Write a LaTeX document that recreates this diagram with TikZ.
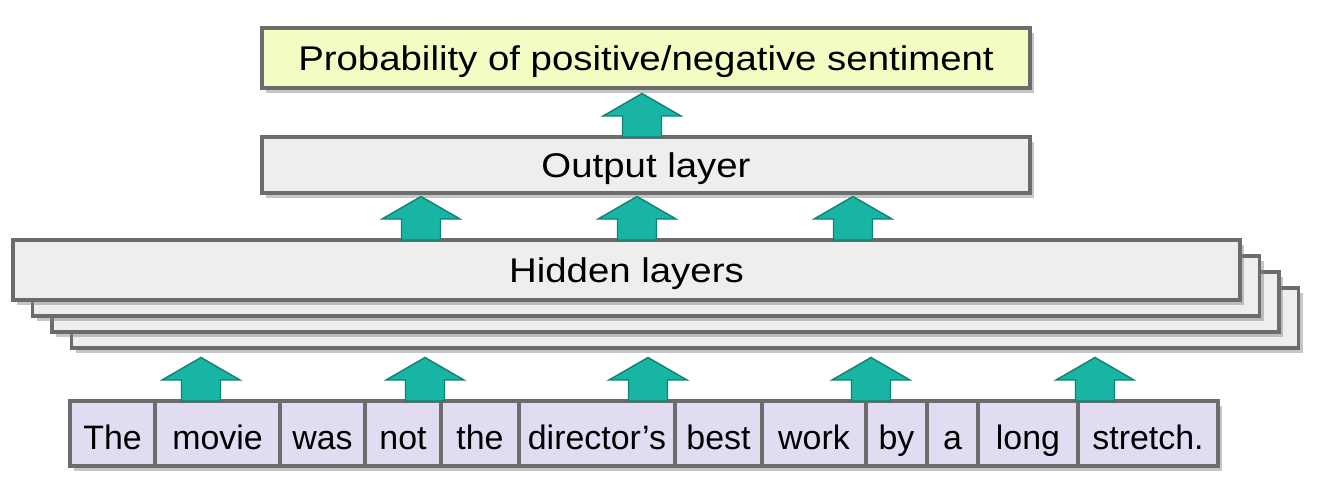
\documentclass[tikz,border=0pt]{standalone}
\usepackage{fontspec}
\setmainfont{Liberation Sans}
\usetikzlibrary{positioning,shadows}

\definecolor{boxline}{RGB}{108,108,108}
\definecolor{layerfill}{RGB}{238,238,238}
\definecolor{probfill}{RGB}{244,252,196}
\definecolor{wordfill}{RGB}{226,220,242}
\definecolor{arrfill}{RGB}{24,180,164}
\definecolor{arrline}{RGB}{18,128,114}

\newcommand{\widetxt}[1]{\scalebox{1.12}[1]{#1}}

\tikzset{
  box/.style={draw=boxline, line width=2.2pt, outer sep=0pt, inner sep=0pt,
    text height=14pt, text depth=0pt,
    drop shadow={shadow xshift=2.5pt, shadow yshift=-3pt, opacity=0.45}},
  layer/.style={box, fill=layerfill, minimum height=1.2cm, font=\fontsize{19.5}{22}\selectfont},
  word/.style={box, fill=wordfill, minimum height=1.3cm, text height=17.8pt, font=\fontsize{19.3}{22}\selectfont},
  pics/uparr/.style={code={
    \draw[fill=arrfill, draw=arrline, line width=0.8pt] (-0.39,0) -- (-0.39,0.42) -- (-0.78,0.42)
      -- (0,0.87) -- (0.78,0.42) -- (0.39,0.42) -- (0.39,0) -- cycle;}}
}

\begin{document}
\begin{tikzpicture}
    \useasboundingbox (0,0) rectangle (26.4,9.8);

    % top boxes
    \node[layer, fill=probfill, minimum width=15.36cm] (prob) at (12.92,8.64) {\widetxt{Probability of positive/negative sentiment}};
    \node[layer, minimum width=15.36cm, minimum height=1.12cm] (out) at (12.92,6.5) {\widetxt{Output layer}};

    % stack of hidden layers
    \foreach \i in {3,2,1}
        \node[layer, minimum width=24.54cm] (hid\i) at (12.53+0.39*\i, 4.4-0.32*\i) {};
    \node[layer, minimum width=24.54cm] (hid) at (12.53,4.4) {\widetxt{Hidden layers}};

    % input words
    \coordinate (w0) at (1.4,1.13);
    \foreach \w/\len [count=\i, remember=\i as \j (initially 0)] in {The/1.70, movie/2.50, was/1.70, not/1.52, the/1.56, director’s/3.12, best/1.74, work/2.08, by/1.22, a/1.02, long/2.00, stretch./2.80}
        \node[word, minimum width=\len cm, right=0pt of w\j] (w\i) {\w};

    % arrows
    \pic at (12.84,0 |- out.north) {uparr};
    \foreach \x in {8.42,12.74,17.06}
        \pic at (\x,0 |- hid.north) {uparr};
    \foreach \x in {4.02,8.50,12.96,17.42,21.90}
        \pic at (\x,0 |- w1.north) {uparr};
\end{tikzpicture}
\end{document}
